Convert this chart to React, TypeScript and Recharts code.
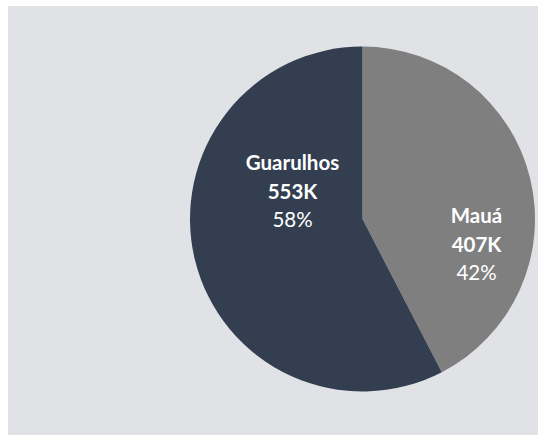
import React from "react";
import { PieChart, Pie, Cell } from "recharts";

// Slice data, clockwise from 12 o'clock
const cities = ["Mauá", "Guarulhos"];
const values = [407, 553];
const valueLabels = ["407K", "553K"];
const sliceColors = ["#7f7f7f", "#333f50"];

// Label placement (offset from pie centre, px) – Excel "best fit" style
const labelOffsets = [
  { dx: 114, dy: 25 },
  { dx: -70, dy: -28 },
];

const data = cities.map((name, i) => ({ name, value: values[i], label: valueLabels[i] }));
const total = values.reduce((a, b) => a + b, 0);

const FONT = "Lato, 'Open Sans', sans-serif";
const FS = 20.5;

const renderLabel = (props: any) => {
  const { cx, cy, index } = props;
  const off = labelOffsets[index];
  const x = cx + off.dx;
  const y = cy + off.dy;
  const pct = Math.round((values[index] / total) * 100);
  return (
    <g key={`lbl-${index}`}>
      <text x={x} y={y - 29} textAnchor="middle" dominantBaseline="central" fill="#ffffff" fontSize={FS} fontWeight={700} fontFamily={FONT}>
        {cities[index]}
      </text>
      <text x={x} y={y} textAnchor="middle" dominantBaseline="central" fill="#ffffff" fontSize={FS} fontWeight={700} fontFamily={FONT}>
        {valueLabels[index]}
      </text>
      <text x={x} y={y + 28} textAnchor="middle" dominantBaseline="central" fill="#ffffff" fontSize={FS} fontFamily={FONT}>
        {pct}%
      </text>
    </g>
  );
};

export default function App() {
  return (
    <div
      style={{
        position: "absolute",
        left: 8,
        top: 6,
        width: 530,
        height: 429,
        background: "#e1e2e6",
      }}
    >
      <PieChart width={530} height={429} margin={{ top: 0, right: 0, bottom: 0, left: 0 }}>
        <Pie
          data={data}
          dataKey="value"
          nameKey="name"
          cx={354.5}
          cy={213}
          outerRadius={172.5}
          startAngle={90}
          endAngle={-270}
          stroke="none"
          label={renderLabel}
          labelLine={false}
          isAnimationActive={false}
        >
          {data.map((d, i) => (
            <Cell key={d.name} fill={sliceColors[i]} />
          ))}
        </Pie>
      </PieChart>
    </div>
  );
}
